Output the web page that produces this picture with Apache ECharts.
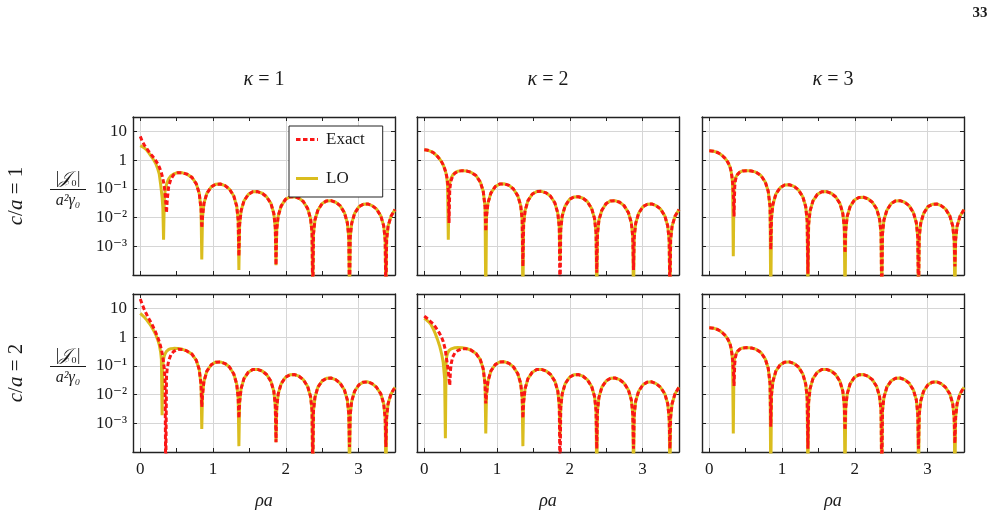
<!DOCTYPE html>
<html lang="en" style="height: 100%">
<head>
  <meta charset="utf-8">
</head>
<body style="height: 100%; margin: 0; background: #fff">
<div id="container" style="width: 996px; height: 518px"></div>

<script type="text/javascript" src="https://cdn.jsdelivr.net/npm/echarts@6/dist/echarts.min.js"></script>
<script type="text/javascript">
  // rho*a sample positions (shared by every curve)
  var rhoA = [
    0, 0.03, 0.06, 0.09, 0.12, 0.15, 0.18, 0.21, 0.24, 0.26, 0.28, 0.29, 0.30, 0.31, 0.32, 0.33, 0.34, 0.35, 0.36, 0.37, 0.39,
    0.42, 0.46, 0.52, 0.58, 0.64, 0.71, 0.77, 0.81, 0.835,
    0.845,
    0.855, 0.875, 0.915, 0.975, 1.035, 1.10, 1.165, 1.225, 1.285, 1.325, 1.345,
    1.355,
    1.365, 1.385, 1.425, 1.485, 1.545, 1.61, 1.675, 1.735, 1.795, 1.835, 1.855,
    1.865,
    1.875, 1.895, 1.935, 1.995, 2.055, 2.12, 2.18, 2.24, 2.30, 2.34, 2.36,
    2.37,
    2.38, 2.40, 2.44, 2.50, 2.56, 2.62, 2.685, 2.745, 2.805, 2.845, 2.865,
    2.875,
    2.885, 2.905, 2.945, 3.005, 3.065, 3.125, 3.185, 3.245, 3.305, 3.345, 3.365,
    3.375,
    3.385, 3.405, 3.445, 3.5
  ];

  // c/a = 1, kappa = 1
  var tlLO = [
    3.2, 2.9, 2.6, 2.2, 1.75, 1.35, 1.05, 0.78, 0.5, 0.33, 0.14, 0.085, 0.05, 0.022, 0.0017, 0.04, 0.08, 0.11, 0.14, 0.17, 0.22,
    0.28, 0.33, 0.37, 0.36, 0.325, 0.25, 0.148, 0.07, 0.02,
    0.00035,
    0.0104, 0.031, 0.07, 0.117, 0.144, 0.147, 0.129, 0.098, 0.056, 0.025, 0.0081,
    0.00015,
    0.0057, 0.017, 0.038, 0.064, 0.079, 0.080, 0.070, 0.053, 0.031, 0.0138, 0.0045,
    0.00022,
    0.0038, 0.0113, 0.025, 0.043, 0.052, 0.053, 0.047, 0.036, 0.0205, 0.0092, 0.003,
    1e-5,
    0.0027, 0.0082, 0.018, 0.031, 0.038, 0.0386, 0.034, 0.026, 0.0148, 0.0066, 0.0021,
    1e-5,
    0.0021, 0.0063, 0.014, 0.024, 0.029, 0.0297, 0.026, 0.020, 0.0114, 0.0051, 0.00165,
    1e-5,
    0.0017, 0.005, 0.011, 0.019
  ];
  var tlEx = [
    6.7, 4.3, 3.2, 2.5, 1.95, 1.55, 1.25, 0.98, 0.74, 0.58, 0.43, 0.36, 0.29, 0.23, 0.17, 0.12, 0.075, 0.035, 0.0145, 0.04, 0.12,
    0.22, 0.31, 0.365, 0.36, 0.325, 0.25, 0.148, 0.07, 0.02,
    0.0043,
    0.0104, 0.031, 0.07, 0.117, 0.144, 0.147, 0.129, 0.098, 0.056, 0.025, 0.0081,
    0.00045,
    0.0057, 0.017, 0.038, 0.064, 0.079, 0.080, 0.070, 0.053, 0.031, 0.0138, 0.0045,
    0.00022,
    0.0038, 0.0113, 0.025, 0.043, 0.052, 0.053, 0.047, 0.036, 0.0205, 0.0092, 0.003,
    1e-5,
    0.0027, 0.0082, 0.018, 0.031, 0.038, 0.0386, 0.034, 0.026, 0.0148, 0.0066, 0.0021,
    1e-5,
    0.0021, 0.0063, 0.014, 0.024, 0.029, 0.0297, 0.026, 0.020, 0.0114, 0.0051, 0.00165,
    1e-5,
    0.0017, 0.005, 0.011, 0.019
  ];

  // c/a = 1, kappa = 2
  var tmLO = [
    2.3, 2.25, 2.15, 2.0, 1.85, 1.6, 1.35, 1.1, 0.85, 0.68, 0.5, 0.42, 0.33, 0.24, 0.13, 0.0017, 0.1, 0.16, 0.2, 0.24, 0.3,
    0.36, 0.41, 0.43, 0.415, 0.38, 0.29, 0.172, 0.082, 0.024,
    1e-5,
    0.011, 0.032, 0.071, 0.12, 0.146, 0.149, 0.131, 0.099, 0.057, 0.026, 0.0083,
    1e-5,
    0.0058, 0.0174, 0.039, 0.066, 0.080, 0.082, 0.072, 0.055, 0.032, 0.014, 0.0046,
    0.0003,
    0.0038, 0.0113, 0.025, 0.043, 0.052, 0.053, 0.047, 0.036, 0.0205, 0.0092, 0.003,
    1e-5,
    0.0027, 0.0082, 0.018, 0.031, 0.038, 0.0386, 0.034, 0.026, 0.0148, 0.0066, 0.0021,
    1e-5,
    0.0021, 0.0063, 0.014, 0.024, 0.029, 0.0297, 0.026, 0.020, 0.0114, 0.0051, 0.00165,
    1e-5,
    0.0017, 0.005, 0.011, 0.019
  ];
  var tmEx = [
    2.3, 2.25, 2.15, 2.0, 1.85, 1.6, 1.35, 1.1, 0.85, 0.68, 0.5, 0.42, 0.34, 0.26, 0.17, 0.09, 0.0065, 0.09, 0.15, 0.2, 0.28,
    0.35, 0.405, 0.43, 0.415, 0.38, 0.29, 0.172, 0.082, 0.024,
    0.0033,
    0.011, 0.032, 0.071, 0.12, 0.146, 0.149, 0.131, 0.099, 0.057, 0.026, 0.0083,
    0.0002,
    0.0058, 0.0174, 0.039, 0.066, 0.080, 0.082, 0.072, 0.055, 0.032, 0.014, 0.0046,
    1e-5,
    0.0038, 0.0113, 0.025, 0.043, 0.052, 0.053, 0.047, 0.036, 0.0205, 0.0092, 0.003,
    0.00012,
    0.0027, 0.0082, 0.018, 0.031, 0.038, 0.0386, 0.034, 0.026, 0.0148, 0.0066, 0.0021,
    0.00015,
    0.0021, 0.0063, 0.014, 0.024, 0.029, 0.0297, 0.026, 0.020, 0.0114, 0.0051, 0.00165,
    1e-5,
    0.0017, 0.005, 0.011, 0.019
  ];

  // c/a = 1, kappa = 3
  var trLO = [
    2.1, 2.08, 2.03, 1.93, 1.8, 1.62, 1.42, 1.2, 0.97, 0.8, 0.62, 0.52, 0.4, 0.28, 0.15, 0.00045, 0.13, 0.19, 0.24, 0.28, 0.33,
    0.38, 0.42, 0.43, 0.415, 0.38, 0.29, 0.172, 0.082, 0.024,
    1e-5,
    0.0098, 0.029, 0.066, 0.11, 0.136, 0.139, 0.122, 0.092, 0.053, 0.024, 0.0077,
    1e-5,
    0.0057, 0.017, 0.038, 0.064, 0.079, 0.080, 0.070, 0.053, 0.031, 0.0138, 0.0045,
    1e-5,
    0.0036, 0.011, 0.024, 0.041, 0.050, 0.051, 0.045, 0.034, 0.020, 0.0088, 0.0029,
    1e-5,
    0.0027, 0.0082, 0.018, 0.031, 0.038, 0.0386, 0.034, 0.026, 0.0148, 0.0066, 0.0021,
    1e-5,
    0.0021, 0.0063, 0.014, 0.024, 0.029, 0.0297, 0.026, 0.020, 0.0114, 0.0051, 0.00165,
    1e-5,
    0.0017, 0.005, 0.011, 0.019
  ];
  var trEx = [
    2.1, 2.08, 2.03, 1.93, 1.8, 1.62, 1.42, 1.2, 0.97, 0.8, 0.62, 0.52, 0.4, 0.28, 0.17, 0.08, 0.011, 0.12, 0.2, 0.25, 0.32,
    0.38, 0.42, 0.43, 0.415, 0.38, 0.29, 0.172, 0.082, 0.024,
    0.00076,
    0.0098, 0.029, 0.066, 0.11, 0.136, 0.139, 0.122, 0.092, 0.053, 0.024, 0.0077,
    0.00011,
    0.0057, 0.017, 0.038, 0.064, 0.079, 0.080, 0.070, 0.053, 0.031, 0.0138, 0.0045,
    0.00058,
    0.0036, 0.011, 0.024, 0.041, 0.050, 0.051, 0.045, 0.034, 0.020, 0.0088, 0.0029,
    1e-5,
    0.0027, 0.0082, 0.018, 0.031, 0.038, 0.0386, 0.034, 0.026, 0.0148, 0.0066, 0.0021,
    1e-5,
    0.0021, 0.0063, 0.014, 0.024, 0.029, 0.0297, 0.026, 0.020, 0.0114, 0.0051, 0.00165,
    0.0002,
    0.0017, 0.005, 0.011, 0.019
  ];

  // c/a = 2, kappa = 1
  var blLO = [
    6.7, 5.7, 4.8, 3.9, 3.1, 2.4, 1.75, 1.25, 0.8, 0.55, 0.3, 0.17, 0.0019, 0.1, 0.17, 0.22, 0.26, 0.29, 0.32, 0.34, 0.37,
    0.395, 0.405, 0.4, 0.375, 0.33, 0.255, 0.155, 0.074, 0.022,
    0.00063,
    0.0097, 0.029, 0.065, 0.109, 0.134, 0.137, 0.12, 0.091, 0.052, 0.023, 0.0076,
    0.00016,
    0.0053, 0.016, 0.036, 0.060, 0.074, 0.075, 0.066, 0.050, 0.029, 0.013, 0.0042,
    0.00022,
    0.0035, 0.0105, 0.0235, 0.040, 0.0485, 0.0495, 0.0435, 0.033, 0.019, 0.0085, 0.0028,
    1e-5,
    0.0027, 0.008, 0.018, 0.030, 0.037, 0.0376, 0.033, 0.025, 0.0144, 0.0065, 0.0021,
    1e-5,
    0.002, 0.0059, 0.013, 0.022, 0.027, 0.0277, 0.024, 0.018, 0.0106, 0.0048, 0.0015,
    1e-5,
    0.0016, 0.0048, 0.0105, 0.018
  ];
  var blEx = [
    21, 13, 8.5, 6.0, 4.3, 3.1, 2.2, 1.5, 0.98, 0.7, 0.47, 0.37, 0.28, 0.2, 0.13, 0.075, 0.035, 1e-5, 0.04, 0.08, 0.15,
    0.24, 0.32, 0.38, 0.37, 0.33, 0.255, 0.155, 0.074, 0.022,
    0.0037,
    0.0097, 0.029, 0.065, 0.109, 0.134, 0.137, 0.12, 0.091, 0.052, 0.023, 0.0076,
    0.0015,
    0.0053, 0.016, 0.036, 0.060, 0.074, 0.075, 0.066, 0.050, 0.029, 0.013, 0.0042,
    0.00022,
    0.0035, 0.0105, 0.0235, 0.040, 0.0485, 0.0495, 0.0435, 0.033, 0.019, 0.0085, 0.0028,
    1e-5,
    0.0027, 0.008, 0.018, 0.030, 0.037, 0.0376, 0.033, 0.025, 0.0144, 0.0065, 0.0021,
    0.00015,
    0.002, 0.0059, 0.013, 0.022, 0.027, 0.0277, 0.024, 0.018, 0.0106, 0.0048, 0.0015,
    0.00015,
    0.0016, 0.0048, 0.0105, 0.018
  ];

  // c/a = 2, kappa = 2
  var bmLO = [
    4.5, 4.0, 3.4, 2.8, 2.0, 1.35, 0.85, 0.5, 0.25, 0.13, 0.035, 0.0003, 0.15, 0.22, 0.27, 0.31, 0.34, 0.36, 0.38, 0.39, 0.41,
    0.425, 0.43, 0.425, 0.4, 0.355, 0.27, 0.163, 0.078, 0.023,
    0.00044,
    0.0098, 0.029, 0.066, 0.11, 0.136, 0.139, 0.122, 0.092, 0.053, 0.024, 0.0077,
    0.00016,
    0.0053, 0.016, 0.036, 0.060, 0.074, 0.075, 0.066, 0.050, 0.029, 0.013, 0.0042,
    0.0003,
    0.0035, 0.0105, 0.0235, 0.040, 0.0485, 0.0495, 0.0435, 0.033, 0.019, 0.0085, 0.0028,
    1e-5,
    0.0027, 0.008, 0.018, 0.030, 0.037, 0.0376, 0.033, 0.025, 0.0144, 0.0065, 0.0021,
    1e-5,
    0.002, 0.0059, 0.013, 0.022, 0.027, 0.0277, 0.024, 0.018, 0.0106, 0.0048, 0.0015,
    1e-5,
    0.0016, 0.0048, 0.0105, 0.018
  ];
  var bmEx = [
    5.4, 4.7, 4.0, 3.4, 2.9, 2.3, 1.8, 1.35, 0.95, 0.7, 0.45, 0.35, 0.22, 0.15, 0.1, 0.065, 0.035, 0.021, 0.07, 0.12, 0.2,
    0.28, 0.34, 0.39, 0.39, 0.355, 0.27, 0.163, 0.078, 0.023,
    0.0049,
    0.0098, 0.029, 0.066, 0.11, 0.136, 0.139, 0.122, 0.092, 0.053, 0.024, 0.0077,
    0.0015,
    0.0053, 0.016, 0.036, 0.060, 0.074, 0.075, 0.066, 0.050, 0.029, 0.013, 0.0042,
    1e-5,
    0.0035, 0.0105, 0.0235, 0.040, 0.0485, 0.0495, 0.0435, 0.033, 0.019, 0.0085, 0.0028,
    0.00013,
    0.0027, 0.008, 0.018, 0.030, 0.037, 0.0376, 0.033, 0.025, 0.0144, 0.0065, 0.0021,
    0.00013,
    0.002, 0.0059, 0.013, 0.022, 0.027, 0.0277, 0.024, 0.018, 0.0106, 0.0048, 0.0015,
    0.00013,
    0.0016, 0.0048, 0.0105, 0.018
  ];

  // c/a = 2, kappa = 3
  var brLO = [
    2.1, 2.08, 2.03, 1.93, 1.8, 1.62, 1.42, 1.2, 0.97, 0.8, 0.62, 0.52, 0.4, 0.28, 0.15, 0.00044, 0.13, 0.19, 0.24, 0.28, 0.33,
    0.38, 0.42, 0.43, 0.415, 0.38, 0.29, 0.172, 0.082, 0.024,
    1e-5,
    0.0097, 0.029, 0.065, 0.109, 0.134, 0.137, 0.12, 0.091, 0.052, 0.023, 0.0076,
    1e-5,
    0.0053, 0.016, 0.036, 0.060, 0.074, 0.075, 0.066, 0.050, 0.029, 0.013, 0.0042,
    1e-5,
    0.0035, 0.0105, 0.0235, 0.040, 0.0485, 0.0495, 0.0435, 0.033, 0.019, 0.0085, 0.0028,
    1e-5,
    0.0027, 0.008, 0.018, 0.030, 0.037, 0.0376, 0.033, 0.025, 0.0144, 0.0065, 0.0021,
    1e-5,
    0.002, 0.0059, 0.013, 0.022, 0.027, 0.0277, 0.024, 0.018, 0.0106, 0.0048, 0.0015,
    1e-5,
    0.0016, 0.0048, 0.0105, 0.018
  ];
  var brEx = [
    2.1, 2.08, 2.03, 1.93, 1.8, 1.62, 1.42, 1.2, 0.97, 0.8, 0.62, 0.52, 0.4, 0.28, 0.17, 0.08, 0.02, 0.12, 0.2, 0.25, 0.32,
    0.38, 0.42, 0.43, 0.415, 0.38, 0.29, 0.172, 0.082, 0.024,
    0.00076,
    0.0097, 0.029, 0.065, 0.109, 0.134, 0.137, 0.12, 0.091, 0.052, 0.023, 0.0076,
    0.00013,
    0.0053, 0.016, 0.036, 0.060, 0.074, 0.075, 0.066, 0.050, 0.029, 0.013, 0.0042,
    0.00058,
    0.0035, 0.0105, 0.0235, 0.040, 0.0485, 0.0495, 0.0435, 0.033, 0.019, 0.0085, 0.0028,
    1e-5,
    0.0027, 0.008, 0.018, 0.030, 0.037, 0.0376, 0.033, 0.025, 0.0144, 0.0065, 0.0021,
    0.00013,
    0.002, 0.0059, 0.013, 0.022, 0.027, 0.0277, 0.024, 0.018, 0.0106, 0.0048, 0.0015,
    0.0002,
    0.0016, 0.0048, 0.0105, 0.018
  ];

  var colTitles = ['κ = 1', 'κ = 2', 'κ = 3'];
  var rowTitles = ['c/a = 1', 'c/a = 2'];
  var yTickText = { '1': '10', '0': '1', '-1': '10⁻¹', '-2': '10⁻²', '-3': '10⁻³' };

  var panels = [
    [tlLO, tlEx], [tmLO, tmEx], [trLO, trEx],
    [blLO, blEx], [bmLO, bmEx], [brLO, brEx]
  ];

  var FONT = '"Liberation Serif", "DejaVu Serif", serif';
  var INK = '#1a1a1a';
  var RED = '#fa1616';
  var GOLD = '#dabd1e';
  var gridLeft = [133, 417, 702];
  var gridTop = [117, 294];
  var W = 262, H = 158;

  // legend samples: a solid strip and a dashed strip, 22 x 14 box
  var iconSolid = 'path://M0,0L0,0ZM0,5.5L22,5.5L22,8.5L0,8.5ZM22,14L22,14Z';
  var iconDashed = 'path://M0,0L0,0ZM0,5.5L4.5,5.5L4.5,8.5L0,8.5ZM7,5.5L11.5,5.5L11.5,8.5L7,8.5Z' +
    'M14,5.5L18.5,5.5L18.5,8.5L14,8.5ZM21,5.5L22,5.5L22,8.5L21,8.5ZM22,14L22,14Z';

  var dom = document.getElementById('container');
  var myChart = echarts.init(dom, null, { renderer: 'canvas' });

  function pairs(ys) {
    return rhoA.map(function (x, i) { return [x, ys[i]]; });
  }

  function xLabel(v) {
    return Math.abs(v - Math.round(v)) < 1e-9 ? String(Math.round(v)) : '';
  }

  function yLabel(v) {
    var l = Math.log(v) / Math.LN10;
    var k = Math.round(l);
    if (Math.abs(l - k) > 1e-6) return '';
    return yTickText[String(k)] || '';
  }

  var grids = [], xAxes = [], yAxes = [], series = [], graphics = [];
  var frame = { show: true, onZero: false, lineStyle: { color: '#222', width: 1.4 } };
  var tick = { show: true, inside: true, length: 4, lineStyle: { color: '#222', width: 1 } };

  for (var g = 0; g < 6; g++) {
    var col = g % 3, row = Math.floor(g / 3);
    grids.push({ left: gridLeft[col], top: gridTop[row], width: W, height: H, outerBoundsMode: 'none' });

    // bottom and top x axes
    xAxes.push({
      type: 'value', gridIndex: g, position: 'bottom', min: -0.1, max: 3.5,
      axisLine: frame, axisTick: tick,
      minorTick: { show: true, splitNumber: 2, length: 4, lineStyle: { color: '#222', width: 1 } },
      splitLine: { show: true, lineStyle: { color: '#d6d6d6', width: 1 } },
      axisLabel: { show: row === 1, formatter: xLabel, fontFamily: FONT, fontSize: 17, color: INK, margin: 9 }
    });
    xAxes.push({
      type: 'value', gridIndex: g, position: 'top', min: -0.1, max: 3.5,
      axisLine: frame, axisTick: tick,
      minorTick: { show: true, splitNumber: 2, length: 4, lineStyle: { color: '#222', width: 1 } },
      splitLine: { show: false }, axisLabel: { show: false }
    });

    // left and right log y axes
    yAxes.push({
      type: 'log', logBase: 10, gridIndex: g, position: 'left', min: 1e-4, max: Math.pow(10, 1.5),
      axisLine: frame, axisTick: tick,
      splitLine: { show: true, lineStyle: { color: '#d6d6d6', width: 1 } },
      axisLabel: { show: col === 0, formatter: yLabel, fontFamily: FONT, fontSize: 17, color: INK, margin: 6 }
    });
    yAxes.push({
      type: 'log', logBase: 10, gridIndex: g, position: 'right', min: 1e-4, max: Math.pow(10, 1.5),
      axisLine: frame, axisTick: tick,
      splitLine: { show: false }, axisLabel: { show: false }
    });

    series.push({
      name: 'LO', type: 'line', xAxisIndex: 2 * g, yAxisIndex: 2 * g,
      data: pairs(panels[g][0]), symbol: 'none', showSymbol: false, clip: true,
      lineStyle: { color: GOLD, width: 3 }, itemStyle: { color: GOLD }
    });
    series.push({
      name: 'Exact', type: 'line', xAxisIndex: 2 * g, yAxisIndex: 2 * g,
      data: pairs(panels[g][1]), symbol: 'none', showSymbol: false, clip: true,
      lineStyle: { color: RED, width: 3, type: [4.5, 2.5] }, itemStyle: { color: RED }
    });
  }

  // column titles and x names
  for (var c = 0; c < 3; c++) {
    var cx = gridLeft[c] + W / 2;
    graphics.push({
      type: 'text', x: cx, y: 80,
      style: {
        text: '{i|κ}' + colTitles[c].slice(1), fill: INK, fontFamily: FONT, fontSize: 20,
        align: 'center', verticalAlign: 'middle',
        rich: { i: { fontStyle: 'italic', fontFamily: FONT, fontSize: 20, fill: INK } }
      }
    });
    graphics.push({
      type: 'text', x: cx, y: 501,
      style: { text: 'ρa', fill: INK, font: 'italic 18px ' + FONT, align: 'center', verticalAlign: 'middle' }
    });
  }

  // row titles and the y quantity (fraction)
  for (var r = 0; r < 2; r++) {
    var cy = gridTop[r] + H / 2;
    graphics.push({
      type: 'text', x: 16, y: cy, rotation: Math.PI / 2,
      style: {
        text: '{i|c}/{i|a}' + rowTitles[r].slice(3), fill: INK, fontFamily: FONT, fontSize: 21,
        align: 'center', verticalAlign: 'middle',
        rich: { i: { fontStyle: 'italic', fontFamily: FONT, fontSize: 21, fill: INK } }
      }
    });
    graphics.push({
      type: 'text', x: 68, y: cy - 17,
      style: {
        text: '|{i|𝒥}₀|', fill: INK, fontFamily: FONT, fontSize: 17, align: 'center', verticalAlign: 'middle',
        rich: { i: { fontStyle: 'italic', fontFamily: FONT, fontSize: 17, fill: INK } }
      }
    });
    graphics.push({
      type: 'line', shape: { x1: 50, y1: cy - 6.5, x2: 86, y2: cy - 6.5 },
      style: { stroke: INK, lineWidth: 1 }
    });
    graphics.push({
      type: 'text', x: 68, y: cy + 5,
      style: { text: 'a²γ₀', fill: INK, font: 'italic 16px ' + FONT, align: 'center', verticalAlign: 'middle' }
    });
  }

  graphics.push({
    type: 'text', x: 980, y: 13,
    style: { text: '33', fill: INK, font: 'bold 15px ' + FONT, align: 'center', verticalAlign: 'middle' }
  });

  var option = {
    animation: false,
    backgroundColor: '#fff',
    grid: grids,
    xAxis: xAxes,
    yAxis: yAxes,
    legend: {
      data: [
        { name: 'Exact', icon: iconDashed },
        { name: 'LO', icon: iconSolid }
      ],
      orient: 'vertical',
      left: 289, top: 126,
      itemWidth: 22, itemHeight: 14, itemGap: 22,
      padding: [5, 18, 10, 7],
      backgroundColor: '#fff',
      borderColor: '#222', borderWidth: 1, borderRadius: 0,
      itemStyle: { borderWidth: 0 },
      textStyle: { fontFamily: FONT, fontSize: 17, color: INK, padding: [0, 0, 0, 3] }
    },
    graphic: graphics,
    series: series
  };

  if (option && typeof option === 'object') {
    myChart.setOption(option);
  }

  window.addEventListener('resize', myChart.resize);
</script>
</body>
</html>
